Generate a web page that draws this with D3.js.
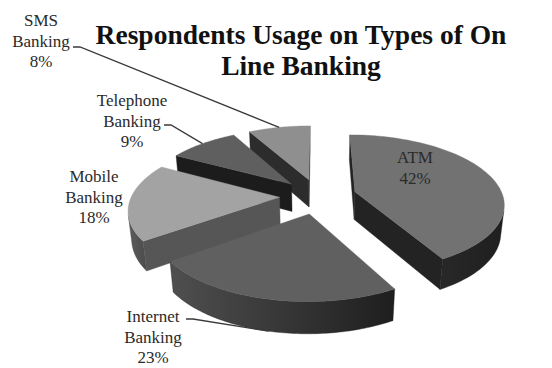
<!DOCTYPE html>
<html>
<head>
<meta charset="utf-8">
<script src="https://cdn.jsdelivr.net/npm/d3@7"></script>
<style>
  body { margin: 0; background: #fff; }
  text { font-family: "Liberation Serif", serif; }
</style>
</head>
<body>
<div id="chart"></div>
<script>
const categories = ["ATM", "Internet Banking", "Mobile Banking", "Telephone Banking", "SMS Banking"];
const shares = [42, 23, 18, 9, 8];
const titleLines = ["Respondents Usage on Types of On", "Line Banking"];

const width = 552, height = 368;

// grey shades per slice: top face, cut side, outer wall (left -> right)
const topFill = ["#727272", "#606060", "#a3a3a3", "#5f5f5f", "#8f8f8f"];
const sideFill = ["#232323", "#2a2a2a", "#565656", "#1c1c1c", "#2c2c2c"];
const wallFill = [["#282828", "#1f1f1f"], ["#4f4f4f", "#1e1e1e"], ["#5c5c5c", "#4c4c4c"], ["#2a2a2a", "#1c1c1c"], ["#343434", "#2a2a2a"]];

// label anchors (first baseline) and leader starts
const labelAt = [[415, 163], [153, 322], [94, 182], [132, 106], [41, 26]];
const leaderFrom = [null, [186, 319], null, [164, 125], [73, 47]];

// simple perspective camera, pie radius = 1
const tilt = 29 * Math.PI / 180, cosT = Math.cos(tilt), sinT = Math.sin(tilt);
const dist = 5.6, thick = 0.215, explode = 0.26;
const focal = 148 * (dist - thick * sinT);
const ox = 318, oy = 224;
const cam = [0, dist * sinT, -dist * cosT];

function proj(X, Y, Z) {
    const zc = dist + Z * cosT - Y * sinT;
    return [ox + focal * X / zc, oy - focal * (Y * cosT + Z * sinT) / zc];
}

const svg = d3.select('#chart').append('svg')
    .attr('width', width)
    .attr('height', height)
    .style('background', '#fff');

const defs = svg.append('defs');
const line = d3.line();

const arcs = d3.pie().sort(null).value(d => d)(shares).map((a, i) => {
    const mid = (a.startAngle + a.endAngle) / 2;
    return {
        i: i,
        a0: a.startAngle,
        a1: a.endAngle,
        mid: mid,
        offX: explode * Math.sin(mid),
        offZ: explode * Math.cos(mid)
    };
});

// back slices first
arcs.sort((p, q) => (q.offZ + 0.6 * Math.cos(q.mid)) - (p.offZ + 0.6 * Math.cos(p.mid)));

const pieG = svg.append('g');

arcs.forEach(s => {
    const g = pieG.append('g');
    const steps = 80;
    const angles = d3.range(steps + 1).map(k => s.a0 + (s.a1 - s.a0) * k / steps);
    const rim = (a, y) => proj(s.offX + Math.sin(a), y, s.offZ + Math.cos(a));
    const apex = y => proj(s.offX, y, s.offZ);

    // outer wall, visible part only
    const seen = a => {
        const px = s.offX + Math.sin(a), pz = s.offZ + Math.cos(a);
        return Math.sin(a) * (cam[0] - px) + Math.cos(a) * (cam[2] - pz) > 0;
    };
    const runs = [];
    let cur = null;
    angles.forEach(a => {
        if (seen(a)) { if (!cur) { cur = []; runs.push(cur); } cur.push(a); }
        else cur = null;
    });
    const gid = 'wall' + s.i;
    const grad = defs.append('linearGradient').attr('id', gid)
        .attr('x1', 0).attr('x2', 1).attr('y1', 0).attr('y2', 0);
    grad.append('stop').attr('offset', 0).attr('stop-color', wallFill[s.i][0]);
    grad.append('stop').attr('offset', 1).attr('stop-color', wallFill[s.i][1]);
    runs.filter(r => r.length > 1).forEach(r => {
        const pts = r.map(a => rim(a, thick)).concat(r.slice().reverse().map(a => rim(a, 0)));
        g.append('path').attr('d', line(pts) + 'Z')
            .attr('fill', 'url(#' + gid + ')')
            .attr('stroke', wallFill[s.i][1]).attr('stroke-width', 0.4);
    });

    // cut sides
    const sides = [
        { a: s.a0, n: [-Math.cos(s.a0), Math.sin(s.a0)] },
        { a: s.a1, n: [Math.cos(s.a1), -Math.sin(s.a1)] }
    ];
    sides.forEach(c => {
        const v = c.n[0] * (cam[0] - s.offX) + c.n[1] * (cam[2] - s.offZ);
        if (v <= 0.01) return;
        const pts = [apex(thick), rim(c.a, thick), rim(c.a, 0), apex(0)];
        g.append('path').attr('d', line(pts) + 'Z')
            .attr('fill', sideFill[s.i])
            .attr('stroke', sideFill[s.i]).attr('stroke-width', 0.4);
    });

    // top face
    const top = [apex(thick)].concat(angles.map(a => rim(a, thick)));
    g.append('path').attr('d', line(top) + 'Z')
        .attr('fill', topFill[s.i])
        .attr('stroke', topFill[s.i]).attr('stroke-width', 0.4);

    // leader line
    const from = leaderFrom[s.i];
    if (from) {
        const end = s.i === 1 ? rim(s.mid, 0) : rim(s.mid, thick);
        pieG.append('path')
            .attr('d', line([from, [from[0] + 7, from[1]], end]))
            .attr('fill', 'none')
            .attr('stroke', '#3a3a3a')
            .attr('stroke-width', 1.3);
    }
});

// move leader lines above slices
pieG.selectAll('path[fill="none"]').raise();

// labels
categories.forEach((name, i) => {
    const lines = name.split(' ').concat([shares[i] + '%']);
    const t = svg.append('text')
        .attr('x', labelAt[i][0])
        .attr('y', labelAt[i][1])
        .attr('text-anchor', 'middle')
        .attr('font-size', 17)
        .attr('fill', '#2a2a2a');
    lines.forEach((l, k) => {
        t.append('tspan')
            .attr('x', labelAt[i][0])
            .attr('dy', k === 0 ? 0 : 20.5)
            .text(l);
    });
});

// title
svg.append('g').selectAll('text')
    .data(titleLines)
    .join('text')
    .attr('x', 301)
    .attr('y', (d, i) => 44 + i * 30.5)
    .attr('text-anchor', 'middle')
    .attr('font-size', 27.5)
    .attr('font-weight', 'bold')
    .attr('fill', '#111')
    .text(d => d);
</script>
</body>
</html>
